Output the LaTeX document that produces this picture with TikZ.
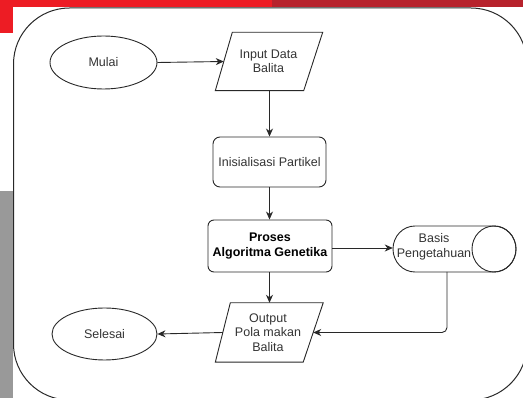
\documentclass[tikz,border=0pt]{standalone}
\usepackage{fontspec}
\setmainfont{Liberation Sans}
\usetikzlibrary{arrows.meta,calc,shapes.geometric}
\definecolor{brightred}{RGB}{237,28,36}
\definecolor{darkred}{RGB}{183,34,44}
\definecolor{stripgrey}{RGB}{153,153,153}
\definecolor{ink}{RGB}{40,40,40}
\definecolor{txt}{RGB}{51,51,51}
\begin{document}
\begin{tikzpicture}[x=1pt,y=1pt,
  every node/.style={font=\fontsize{12.5}{14.5}\selectfont, text=txt, align=center, inner sep=0pt},
  line/.style={draw=ink, line width=0.9pt},
  arr/.style={line, -{Stealth[length=8pt,width=7pt,inset=2.5pt]}},
  term/.style={ellipse, line},
  procbox/.style={rectangle, rounded corners=7pt, line},
  iobox/.style={rectangle, minimum width=89pt, minimum height=58pt},
]
\useasboundingbox (0,0) rectangle (523,-398);
\begin{scope}
\clip (0,0) rectangle (523,-398);
% top bars
\fill[brightred] (0,0) rectangle (272,-7.5);
\fill[darkred] (272,0) rectangle (523,-7.5);
\fill[brightred] (0,0) rectangle (13,-33);
\fill[stripgrey] (0,-191) rectangle (13,-398);
% frame
\draw[draw=ink, line width=1pt, rounded corners=56pt] (13.5,-8) rectangle (527,-400);
\end{scope}

% nodes
\node[term, minimum width=107pt, minimum height=53pt] (mulai) at (103.5,-62.5) {Mulai};
\node[iobox] (input) at (268.5,-61.5) {Input Data\\Balita};
\draw[line] ($(input.north west)+(8.5,0)$) -- ($(input.north east)+(9.5,0)$) -- ($(input.south east)+(-9.5,0)$) -- ($(input.south west)+(-8.5,0)$) -- cycle;
\node[procbox, minimum width=113pt, minimum height=50pt] (init) at (269.5,-162) {Inisialisasi Partikel};
\node[procbox, rounded corners=6pt, minimum width=124pt, minimum height=52pt, font=\fontsize{12.5}{14.5}\selectfont\bfseries, text=black] (proses) at (270,-246) {Proses\\Algoritma Genetika};
\node[rectangle, minimum width=122pt, minimum height=46pt] (basis) at (454,-249) {};
\draw[line] (494,-226) -- (415,-226) arc[start angle=90, end angle=270, x radius=22pt, y radius=23pt] -- (494,-272) arc[start angle=270, end angle=450, x radius=22pt, y radius=23pt];
\draw[line] (494,-249) ellipse[x radius=22pt, y radius=23pt];
\node at (434,-247) {Basis\\Pengetahuan};
\node[iobox, minimum height=59pt, minimum width=90pt] (output) at (268,-332.5) {Output\\Pola makan\\Balita};
\draw[line] ($(output.north west)+(7.5,0)$) -- ($(output.north east)+(10,0)$) -- ($(output.south east)+(-10,0)$) -- ($(output.south west)+(-7.5,0)$) -- cycle;
\node[term, minimum width=105pt, minimum height=52pt] (selesai) at (104.5,-334) {Selesai};
\coordinate (bout) at (447,-272);

% connectors
\draw[arr] (mulai.east) -- (input.west);
\draw[arr] (input.south -| init.north) -- (init.north);
\draw[arr] (init.south) -- (proses.north -| init.south);
\draw[arr] (proses.east |- 0,-248) -- (basis.west |- 0,-248);
\draw[arr] (proses.south -| init.south) -- (output.north -| init.south);
\draw[arr] (output.west) -- (selesai.east);
\draw[arr, rounded corners=5pt] (bout) |- (output.east);
\end{tikzpicture}
\end{document}
